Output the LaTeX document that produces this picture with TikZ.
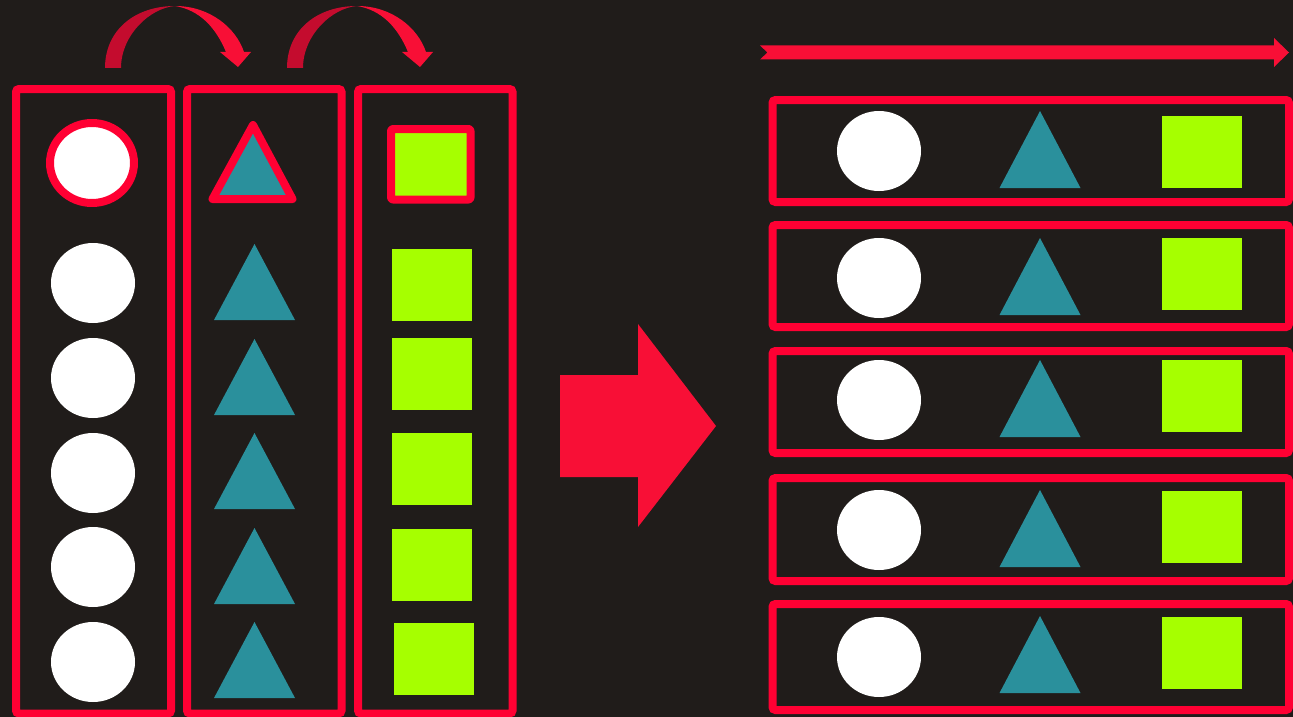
\documentclass[tikz,border=0pt]{standalone}
\definecolor{bg}{HTML}{201C1A}
\definecolor{rd}{HTML}{FF0033}
\definecolor{ard}{HTML}{F80F36}
\definecolor{drd}{HTML}{C40C2E}
\definecolor{tl}{HTML}{2A909C}
\definecolor{gr}{HTML}{A6FF00}
\begin{document}
\begin{tikzpicture}[x=1pt,y=-1pt,
  box/.style={draw=rd,line width=8pt,rounded corners=3pt},
  hl/.style={draw=rd,line width=8pt,line join=round},
  circ/.style={fill=white},
  tri/.style={fill=tl},
  sq/.style={fill=gr},
  arr/.style={fill=ard}]
\fill[bg] (0,0) rectangle (1293,717);
\useasboundingbox (0,0) rectangle (1293,717);

% curved arrows
\foreach \dx in {0,182}{
\begin{scope}[shift={(\dx,0)}]
\fill[drd] (105,68) .. controls (105,30) and (135,6) .. (175,6) .. controls (150,8) and (121,35) .. (121,68) -- cycle;
\fill[arr] (175,6) .. controls (210,6) and (236,28) .. (244,52) -- (251,52) -- (238,67) -- (220,52) -- (226,52) .. controls (216,28) and (200,10) .. (175,6) -- cycle;
\end{scope}}

% left columns
\draw[box] (16,89) rectangle (171,713.5);
\draw[box] (187,89) rectangle (341.5,713.5);
\draw[box] (358,89) rectangle (512.5,713.5);

\draw[hl,fill=white] (92,163) ellipse [x radius=42pt, y radius=40pt];
\foreach \y in {283,378,473,567,662}
  \fill[circ] (93,\y) ellipse [x radius=42pt, y radius=40pt];

\draw[hl,fill=tl] (253,125) -- (292.5,199) -- (212.5,199) -- cycle;
\foreach \t in {244,339,433,528,622}
  \fill[tri] (254.5,\t) -- (295,\t+76) -- (214,\t+76) -- cycle;

\draw[hl,fill=gr,rounded corners=2pt] (391,129) rectangle (470.5,199.5);
\foreach \t/\x in {249/392,338/392,433/392,529/392,623/394}
  \fill[sq] (\x,\t) rectangle (\x+80,\t+72);

% big arrow
\fill[arr] (560,375) -- (638,375) -- (638,324) -- (716,426) -- (638,527) -- (638,477) -- (560,477) -- cycle;

% top arrow
\fill[arr] (760,45.5) -- (1274,45.5) -- (1274,38) -- (1289,52.5) -- (1274,67) -- (1274,59.5) -- (760,59.5) -- (767.5,52.5) -- cycle;

% right rows
\foreach \a/\b/\c/\tt/\s in {100/202/151/111/116, 225/327/278/238/238, 351/453/400/360/360, 478/581/530/490/491, 604/710/657/616/617}{
  \draw[box] (772.5,\a) rectangle (1289,\b);
  \fill[circ] (879,\c) ellipse [x radius=42pt, y radius=40pt];
  \fill[tri] (1040,\tt) -- (1080.5,\tt+77) -- (999.5,\tt+77) -- cycle;
  \fill[sq] (1162,\s) rectangle (1242,\s+72);
}
\end{tikzpicture}
\end{document}
